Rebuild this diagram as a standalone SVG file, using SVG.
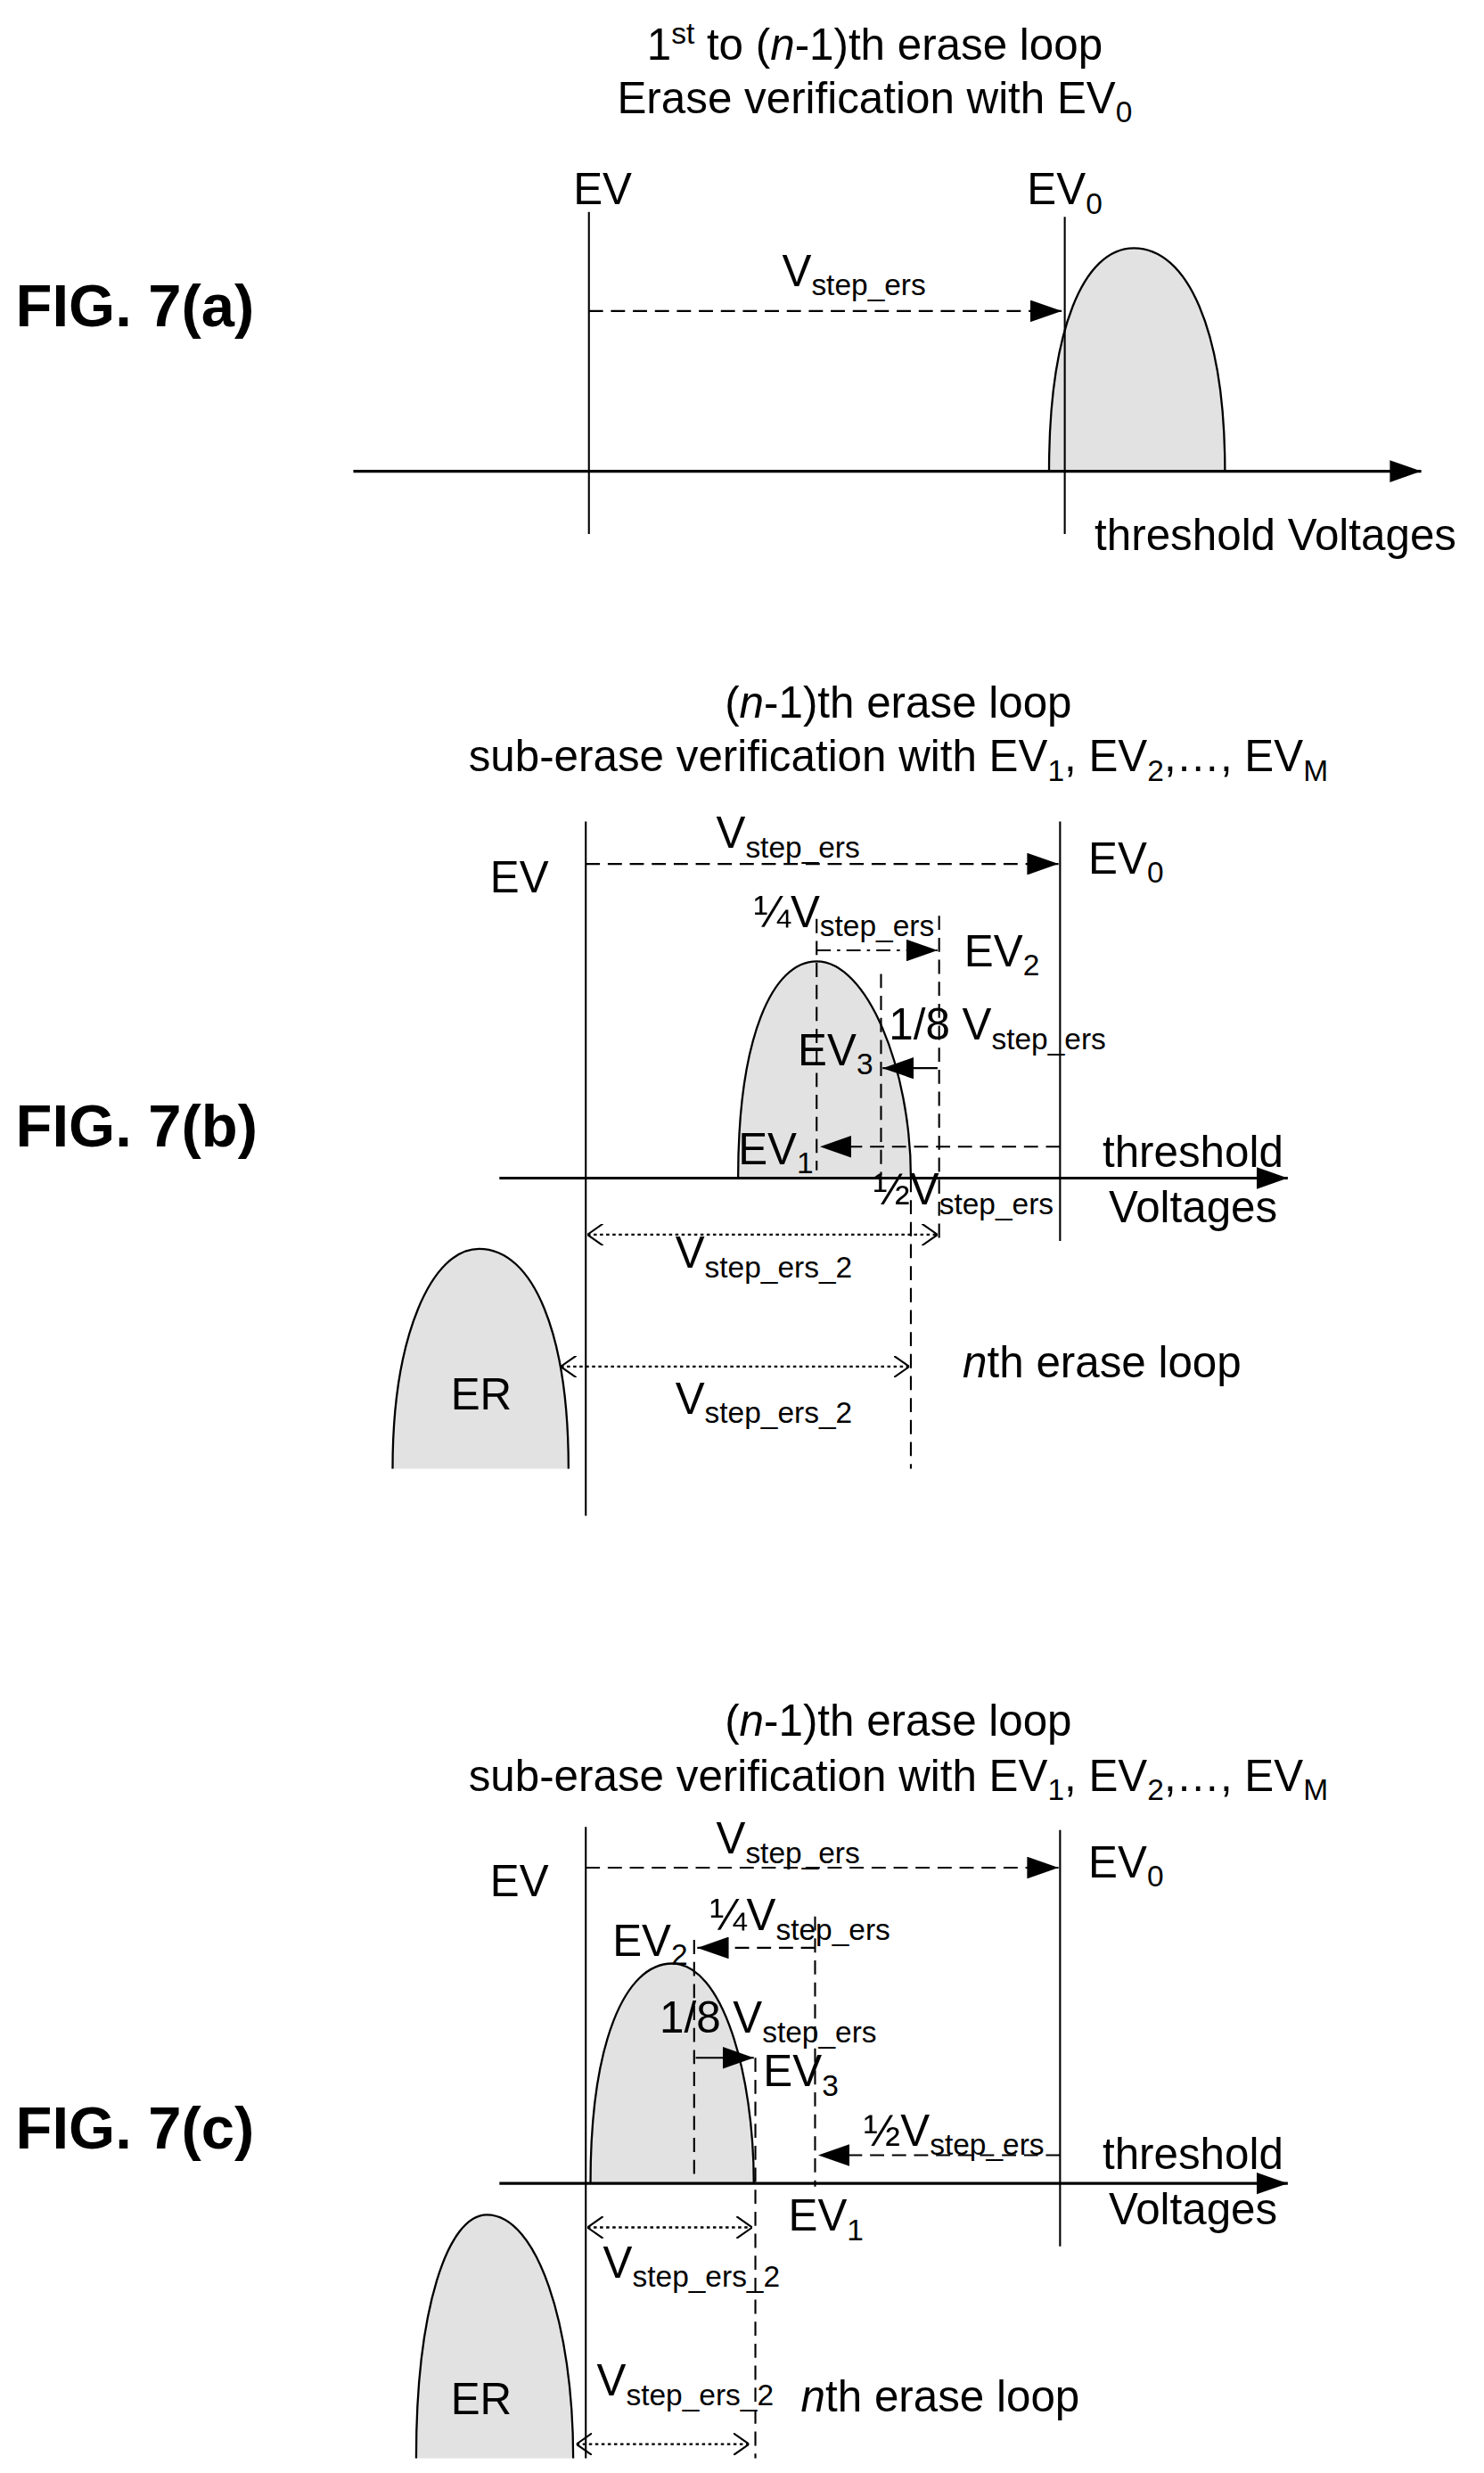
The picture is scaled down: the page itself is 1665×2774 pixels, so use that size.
<svg xmlns="http://www.w3.org/2000/svg" width="1665" height="2774" viewBox="0 0 1665 2774">
<style>
text{font-family:"Liberation Sans",Arial,sans-serif;font-size:28px;fill:#000}
.fig{font-size:38px;font-weight:bold}
.s{font-size:19px}
.ln{stroke:#000;stroke-width:1.2;fill:none}
.ax{stroke:#000;stroke-width:1.8;fill:none}
.da{stroke:#000;stroke-width:1.2;fill:none;stroke-dasharray:9 5}
.dd{stroke:#000;stroke-width:1.2;fill:none;stroke-dasharray:9 4 2 4}
.dt{stroke:#000;stroke-width:1.3;fill:none;stroke-dasharray:2 2}
.bump{fill:#e2e2e2;stroke:#000;stroke-width:1.3}
</style>
<defs>
<marker id="ah" markerWidth="20" markerHeight="14" refX="20" refY="7" orient="auto" markerUnits="userSpaceOnUse"><path d="M0,0 L20,7 L0,14 Z" fill="#000"/></marker>
<marker id="oh" markerWidth="10" markerHeight="14" refX="10" refY="7" orient="auto-start-reverse" markerUnits="userSpaceOnUse"><path d="M0,0 L10,7 L0,14" fill="none" stroke="#000" stroke-width="1.2"/></marker>
</defs>
<rect width="1665" height="2774" fill="#fff"/>
<g transform="scale(1.762)">
<g id="fig7a">
<text class="fig" x="10" y="208">FIG. 7(a)</text>
<text x="557" y="38" text-anchor="middle">1<tspan class="s" dy="-10">st</tspan><tspan dy="10"> to (</tspan><tspan font-style="italic">n</tspan>-1)th erase loop</text>
<text x="557" y="72" text-anchor="middle">Erase verification with EV<tspan class="s" dy="6">0</tspan></text>
<path class="bump" d="M668,300 C668,210 690,158 722,158 C756,158 780,210 780,300"/>
<line class="ln" x1="375" y1="135" x2="375" y2="340"/>
<line class="ln" x1="678" y1="138" x2="678" y2="340"/>
<text x="365" y="130">EV</text>
<text x="654" y="130">EV<tspan class="s" dy="6">0</tspan></text>
<text x="498" y="182">V<tspan class="s" dy="6">step_ers</tspan></text>
<text x="697" y="350">threshold Voltages</text>
</g>
<g id="conn7a">
<line class="da" x1="375" y1="198" x2="676" y2="198" marker-end="url(#ah)"/>
<line class="ax" x1="225" y1="300" x2="905" y2="300" marker-end="url(#ah)"/>
</g>
<g id="fig7b">
<text class="fig" x="10" y="730">FIG. 7(b)</text>
<text x="572" y="457" text-anchor="middle">(<tspan font-style="italic">n</tspan>-1)th erase loop</text>
<text x="572" y="491" text-anchor="middle">sub-erase verification with EV<tspan class="s" dy="6">1</tspan><tspan dy="-6">, EV</tspan><tspan class="s" dy="6">2</tspan><tspan dy="-6">,…, EV</tspan><tspan class="s" dy="6">M</tspan></text>
<path class="bump" d="M470,750 C470,660 492,612 520,612 C552,612 580,680 580,750"/>
<path class="bump" d="M250,935 C250,850 275,795 305,795 C340,795 362,850 362,935"/>
<line class="ln" x1="373" y1="523" x2="373" y2="965"/>
<line class="ln" x1="675" y1="523" x2="675" y2="790"/>
<line class="da" x1="520" y1="585" x2="520" y2="745"/>
<line class="da" x1="598" y1="583" x2="598" y2="790"/>
<line class="da" x1="561" y1="620" x2="561" y2="748"/>
<line class="da" x1="580" y1="750" x2="580" y2="935"/>
<text x="312" y="568">EV</text>
<text x="693" y="556">EV<tspan class="s" dy="6">0</tspan></text>
<text x="456" y="540">V<tspan class="s" dy="6">step_ers</tspan></text>
<text x="480" y="590">¼V<tspan class="s" dy="6">step_ers</tspan></text>
<text x="614" y="615">EV<tspan class="s" dy="6">2</tspan></text>
<text x="566" y="662">1/8 V<tspan class="s" dy="6">step_ers</tspan></text>
<text x="508" y="678">EV<tspan class="s" dy="6">3</tspan></text>
<text x="470" y="741">EV<tspan class="s" dy="6">1</tspan></text>
<text x="556" y="767">½V<tspan class="s" dy="6">step_ers</tspan></text>
<text x="702" y="743">threshold</text>
<text x="706" y="778">Voltages</text>
<text x="430" y="807">V<tspan class="s" dy="6">step_ers_2</tspan></text>
<text x="430" y="900">V<tspan class="s" dy="6">step_ers_2</tspan></text>
<text x="613" y="877"><tspan font-style="italic">n</tspan>th erase loop</text>
<text x="287" y="897">ER</text>
</g>
<g id="conn7b">
<line class="da" x1="373" y1="550" x2="674" y2="550" marker-end="url(#ah)"/>
<line class="dd" x1="520" y1="605" x2="597" y2="605" marker-end="url(#ah)"/>
<line class="ln" x1="597" y1="680" x2="562" y2="680" marker-end="url(#ah)"/>
<line class="da" x1="675" y1="730" x2="522" y2="730" marker-end="url(#ah)"/>
<line class="ax" x1="318" y1="750" x2="820" y2="750" marker-end="url(#ah)"/>
<line class="dt" x1="374" y1="786" x2="597" y2="786" marker-start="url(#oh)" marker-end="url(#oh)"/>
<line class="dt" x1="357" y1="870" x2="579" y2="870" marker-start="url(#oh)" marker-end="url(#oh)"/>
</g>
<g id="fig7c">
<text class="fig" x="10" y="1368">FIG. 7(c)</text>
<text x="572" y="1105" text-anchor="middle">(<tspan font-style="italic">n</tspan>-1)th erase loop</text>
<text x="572" y="1140" text-anchor="middle">sub-erase verification with EV<tspan class="s" dy="6">1</tspan><tspan dy="-6">, EV</tspan><tspan class="s" dy="6">2</tspan><tspan dy="-6">,…, EV</tspan><tspan class="s" dy="6">M</tspan></text>
<path class="bump" d="M376,1390 C376,1300 398,1250 428,1250 C460,1250 480,1320 480,1390"/>
<path class="bump" d="M265,1565 C265,1470 285,1410 310,1410 C342,1410 365,1480 365,1565"/>
<line class="ln" x1="373" y1="1163" x2="373" y2="1565"/>
<line class="ln" x1="675" y1="1165" x2="675" y2="1430"/>
<line class="da" x1="519" y1="1220" x2="519" y2="1392"/>
<line class="da" x1="442" y1="1235" x2="442" y2="1388" stroke-width="1.8"/>
<line class="da" x1="481" y1="1310" x2="481" y2="1565"/>
<text x="312" y="1207">EV</text>
<text x="693" y="1195">EV<tspan class="s" dy="6">0</tspan></text>
<text x="456" y="1180">V<tspan class="s" dy="6">step_ers</tspan></text>
<text x="452" y="1229">¼V<tspan class="s" dy="6">step_ers</tspan></text>
<text x="390" y="1245">EV<tspan class="s" dy="6">2</tspan></text>
<text x="420" y="1294">1/8 V<tspan class="s" dy="6">step_ers</tspan></text>
<text x="486" y="1328">EV<tspan class="s" dy="6">3</tspan></text>
<text x="550" y="1366">½V<tspan class="s" dy="6">step_ers</tspan></text>
<text x="702" y="1381">threshold</text>
<text x="706" y="1416">Voltages</text>
<text x="502" y="1420">EV<tspan class="s" dy="6">1</tspan></text>
<text x="384" y="1450">V<tspan class="s" dy="6">step_ers_2</tspan></text>
<text x="380" y="1525">V<tspan class="s" dy="6">step_ers_2</tspan></text>
<text x="510" y="1535"><tspan font-style="italic">n</tspan>th erase loop</text>
<text x="287" y="1537">ER</text>
</g>
<g id="conn7c">
<line class="da" x1="373" y1="1189" x2="674" y2="1189" marker-end="url(#ah)"/>
<line class="da" x1="519" y1="1240" x2="444" y2="1240" marker-end="url(#ah)"/>
<line class="ln" x1="443" y1="1310" x2="480" y2="1310" marker-end="url(#ah)"/>
<line class="da" x1="675" y1="1372" x2="521" y2="1372" marker-end="url(#ah)"/>
<line class="ax" x1="318" y1="1390" x2="820" y2="1390" marker-end="url(#ah)"/>
<line class="dt" x1="374" y1="1418" x2="479" y2="1418" marker-start="url(#oh)" marker-end="url(#oh)"/>
<line class="dt" x1="367" y1="1556" x2="477" y2="1556" marker-start="url(#oh)" marker-end="url(#oh)"/>
</g>
</g>
</svg>
